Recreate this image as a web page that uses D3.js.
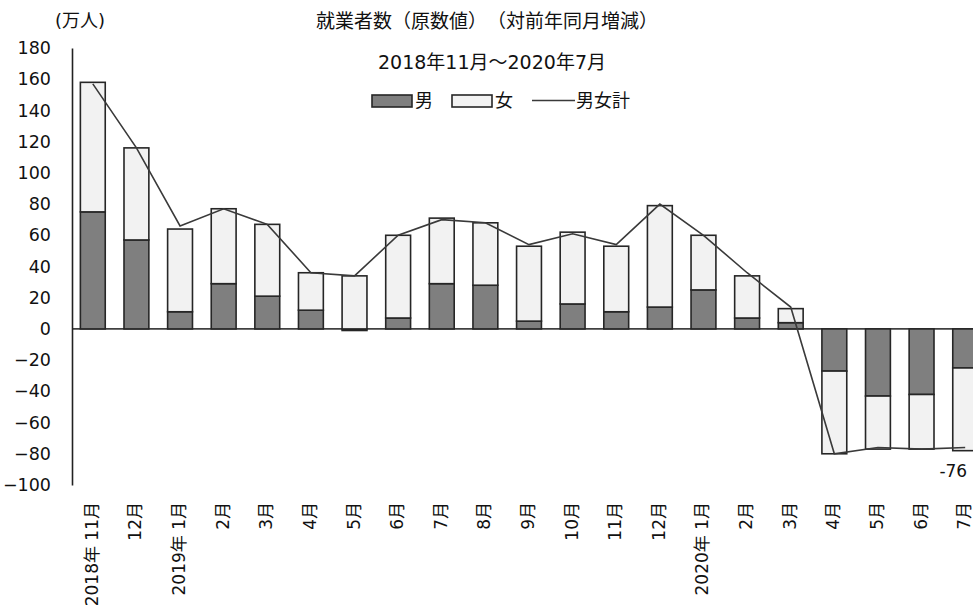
<!DOCTYPE html>
<html lang="ja">
<head>
<meta charset="utf-8">
<script src="https://cdn.jsdelivr.net/npm/d3@7"></script>
<style>
  html, body { margin: 0; padding: 0; background: #fff; }
  svg { display: block; }
  text { font-family: "DejaVu Sans", "Noto Sans CJK JP", sans-serif; fill: #111; text-spacing-trim: space-all; }
</style>
</head>
<body>
<svg id="chart" width="973" height="612"></svg>
<script>
// 就業者数（原数値）対前年同月増減, 単位: 万人
const months = [
  "2018年 11月", "12月", "2019年 1月", "2月", "3月", "4月", "5月", "6月", "7月", "8月",
  "9月", "10月", "11月", "12月", "2020年 1月", "2月", "3月", "4月", "5月", "6月", "7月"
];
const male   = [75, 57, 11, 29, 21, 12, -1, 7, 29, 28, 5, 16, 11, 14, 25, 7, 4, -27, -43, -42, -25];
const female = [83, 59, 53, 48, 46, 24, 34, 53, 42, 40, 48, 46, 42, 65, 35, 27, 9, -53, -34, -35, -53];
const total  = [157, 116, 66, 77, 67, 36, 34, 60, 70, 68, 54, 61, 54, 80, 60, 36, 14, -80, -76, -77, -76];
const yTicks = [180, 160, 140, 120, 100, 80, 60, 40, 20, 0, -20, -40, -60, -80, -100];

const titleText = "就業者数（原数値）（対前年同月増減）";
const periodText = "2018年11月～2020年7月";
const unitText = "(万人)";

const svg = d3.select("#chart");

// month labels repeat across years, so the band scale is keyed by position
const idx = d3.range(months.length);

const x = d3.scaleBand()
  .domain(idx)
  .range([71, 987])
  .paddingInner(0.43)
  .paddingOuter(0.215);
const cx = i => x(i) + x.bandwidth() / 2;

const y = d3.scaleLinear()
  .domain([-100, 180])
  .range([485, 48]);

const rows = idx.map(i => ({ i, male: male[i], female: female[i] }));
const series = d3.stack()
  .keys(["male", "female"])
  .offset(d3.stackOffsetDiverging)(rows);

const fills = { male: "#7f7f7f", female: "#f2f2f2" };

// zero baseline
svg.append("line")
  .attr("x1", 72).attr("x2", 973)
  .attr("y1", y(0)).attr("y2", y(0))
  .attr("stroke", "#404040").attr("stroke-width", 1.8);

// stacked bars
svg.append("g").selectAll("g")
  .data(series)
  .join("g")
    .attr("fill", d => fills[d.key])
  .selectAll("rect")
  .data(d => d)
  .join("rect")
    .attr("x", d => x(d.data.i))
    .attr("width", x.bandwidth())
    .attr("y", d => y(Math.max(d[0], d[1])))
    .attr("height", d => Math.abs(y(d[0]) - y(d[1])))
    .attr("stroke", "#262626")
    .attr("stroke-width", 1.6);

// 男女計 line
const line = d3.line()
  .x((d, i) => cx(i))
  .y(d => y(d));

svg.append("path")
  .datum(total)
  .attr("fill", "none")
  .attr("stroke", "#3a3a3a")
  .attr("stroke-width", 1.6)
  .attr("d", line);

// value label on last point
const last = total.length - 1;
svg.append("text")
  .attr("x", cx(last) + 2)
  .attr("y", y(total[last]) + 23)
  .attr("text-anchor", "end")
  .attr("dominant-baseline", "central")
  .style("font-size", "17px")
  .text(total[last]);

// y axis
const yAxis = svg.append("g")
  .attr("transform", "translate(72,0)")
  .call(d3.axisLeft(y).tickValues(yTicks).tickSize(0).tickPadding(21));
yAxis.select(".domain").attr("stroke", "#222").attr("stroke-width", 1.6);
yAxis.selectAll("text")
  .style("font-size", "17.5px")
  .style("font-family", "'DejaVu Sans', 'Noto Sans CJK JP', sans-serif")
  .attr("fill", "#111");

// x labels, rotated
svg.append("g").selectAll("text")
  .data(idx)
  .join("text")
    .attr("transform", i => `translate(${cx(i) - 1},502) rotate(-90)`)
    .attr("text-anchor", "end")
    .attr("dominant-baseline", "central")
    .style("font-size", "17px")
    .text(i => months[i]);

// titles
svg.append("text")
  .attr("x", 316).attr("y", 21)
  .attr("dominant-baseline", "central")
  .style("font-size", "19px")
  .text(titleText);

svg.append("text")
  .attr("x", 378).attr("y", 62)
  .attr("dominant-baseline", "central")
  .style("font-size", "19px")
  .text(periodText);

svg.append("text")
  .attr("x", 55).attr("y", 20)
  .attr("dominant-baseline", "central")
  .style("font-size", "18px")
  .text(unitText);

// legend
const legend = svg.append("g");
const legendItems = [
  { key: "male", label: "男", x: 372 },
  { key: "female", label: "女", x: 452 }
];
legendItems.forEach(it => {
  legend.append("rect")
    .attr("x", it.x).attr("y", 95)
    .attr("width", 40).attr("height", 12)
    .attr("fill", fills[it.key])
    .attr("stroke", "#262626").attr("stroke-width", 1.6);
  legend.append("text")
    .attr("x", it.x + 43).attr("y", 100)
    .attr("dominant-baseline", "central")
    .style("font-size", "18px")
    .text(it.label);
});
legend.append("line")
  .attr("x1", 532).attr("x2", 575)
  .attr("y1", 100.5).attr("y2", 100.5)
  .attr("stroke", "#3a3a3a").attr("stroke-width", 1.6);
legend.append("text")
  .attr("x", 576).attr("y", 100)
  .attr("dominant-baseline", "central")
  .style("font-size", "18px")
  .text("男女計");
</script>
</body>
</html>
